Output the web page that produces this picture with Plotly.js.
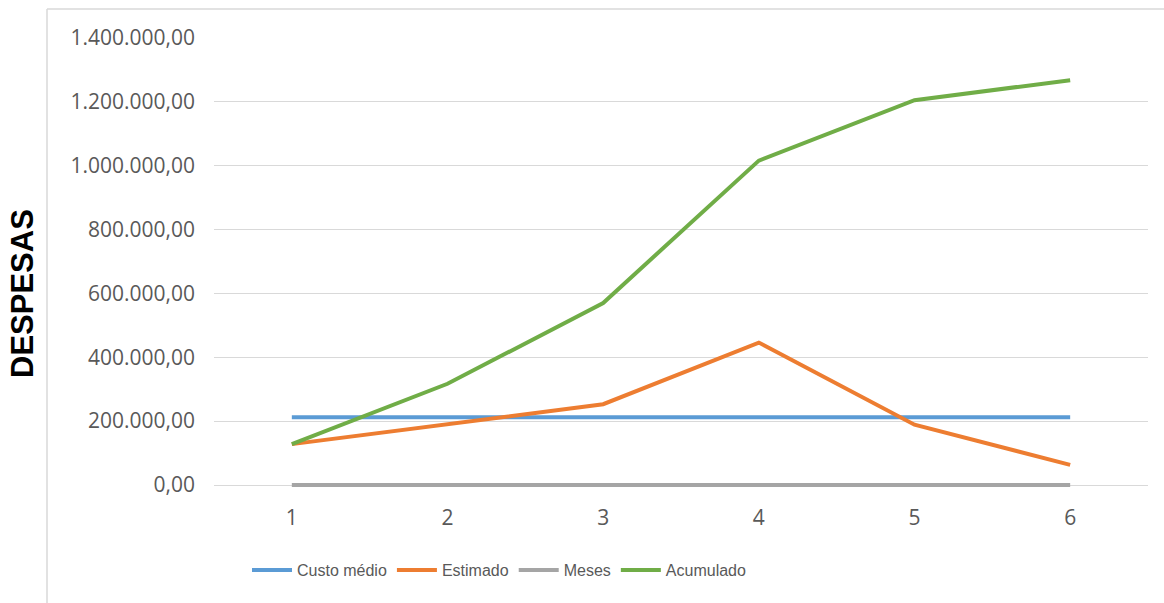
<!DOCTYPE html>
<html>
<head>
<meta charset="utf-8">
<script src="https://cdn.plot.ly/plotly-3.0.1.min.js"></script>
<style>
  html, body { margin: 0; padding: 0; background: #ffffff; }
  #chart { width: 1164px; height: 603px; }
</style>
</head>
<body>
<div id="chart"></div>
<script>
const meses = [1, 2, 3, 4, 5, 6];
const custoMedio = [212000, 212000, 212000, 212000, 212000, 212000];
const estimado = [128000, 189000, 253000, 446000, 189000, 63000];
const mesesSerie = [1, 2, 3, 4, 5, 6];
const acumulado = [128000, 317000, 570000, 1016000, 1205000, 1268000];
const seriesNames = ['Custo médio', 'Estimado', 'Meses', 'Acumulado'];
const seriesColors = ['#5b9bd5', '#ed7d31', '#a5a5a5', '#70ad47'];
const yAxisTitle = 'DESPESAS';

const values = [custoMedio, estimado, mesesSerie, acumulado];
const traces = values.map((v, i) => ({
  type: 'scatter',
  mode: 'lines',
  x: meses,
  y: v,
  name: seriesNames[i],
  line: { color: seriesColors[i], width: 4 },
  cliponaxis: false,
  hoverinfo: 'skip'
}));

// plot area: x 214..1148, value 0 at y=485, 1.400.000 at y=38 (4px extra room below zero)
const L = 214, R = 16, T = 38, B = 114;
const PW = 1164 - L - R, PH = 603 - T - B;
const unitsPerPx = 1400000 / 447;
const yMin = -4 * unitsPerPx;
const px = v => (v - L) / PW;
const py = v => (603 - B - v) / PH;

const layout = {
  width: 1164,
  height: 603,
  margin: { l: L, r: R, t: T, b: B, pad: 0 },
  paper_bgcolor: '#ffffff',
  plot_bgcolor: '#ffffff',
  separators: ',.',
  font: { family: 'Open Sans, Liberation Sans, sans-serif', color: '#595959' },
  showlegend: true,
  legend: {
    orientation: 'h',
    x: px(247), xanchor: 'left',
    y: py(570), yanchor: 'middle',
    font: { family: 'Liberation Sans, sans-serif', size: 16, color: '#595959' },
    itemwidth: 40,
    bgcolor: 'rgba(0,0,0,0)'
  },
  xaxis: {
    type: 'linear',
    range: [0.5, 6.5],
    tickvals: meses,
    ticktext: meses.map(String),
    showgrid: false,
    zeroline: false,
    showline: false,
    ticks: '',
    ticklabelstandoff: 14,
    tickfont: { size: 21, color: '#595959', family: 'Open Sans, sans-serif' },
    fixedrange: true
  },
  yaxis: {
    range: [yMin, 1400000],
    tickmode: 'linear',
    dtick: 200000,
    tick0: 0,
    tickformat: ',.2f',
    showgrid: true,
    gridcolor: '#d9d9d9',
    gridwidth: 1,
    zeroline: false,
    showline: false,
    ticks: '',
    ticklabelstandoff: 18,
    tickfont: { size: 21, color: '#595959', family: 'Open Sans, sans-serif' },
    fixedrange: true
  },
  shapes: [
    { type: 'line', xref: 'paper', yref: 'paper', x0: px(47), x1: px(1170), y0: py(9), y1: py(9),
      line: { color: '#d9d9d9', width: 1.5 }, layer: 'below' },
    { type: 'line', xref: 'paper', yref: 'paper', x0: px(47), x1: px(47), y0: py(9), y1: py(610),
      line: { color: '#d9d9d9', width: 1.5 }, layer: 'below' }
  ],
  annotations: [
    { text: yAxisTitle, xref: 'paper', yref: 'paper', x: px(22), y: py(294),
      xanchor: 'center', yanchor: 'middle', textangle: -90, showarrow: false,
      font: { family: 'Liberation Sans, Arial, sans-serif', size: 31, color: '#000000', weight: 'bold' } }
  ]
};

Plotly.newPlot('chart', traces, layout, { displayModeBar: false, staticPlot: true });
</script>
</body>
</html>
